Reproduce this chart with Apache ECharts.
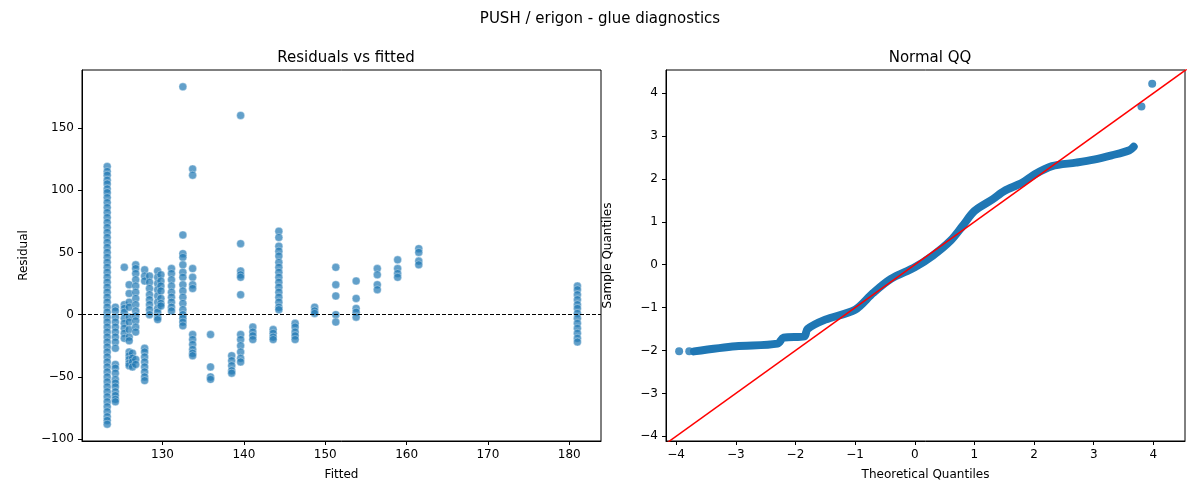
<!DOCTYPE html>
<html>
<head>
<meta charset="UTF-8">
<title>glue diagnostics</title>
<script src="https://cdn.jsdelivr.net/npm/echarts@6/dist/echarts.min.js"></script>
</head>
<body style="margin:0">
<div id="chart" style="width:1200px;height:500px"></div>
<script>
// fitted levels and the residuals seen at each level
var fitted = [123.2, 124.2, 125.3, 125.9, 126.3, 126.7, 127.8, 128.4, 129.4, 129.8, 131.1, 132.5, 133.7,
  135.9, 138.5, 139.6, 141.1, 143.6, 144.3, 146.3, 148.7, 151.3, 153.8, 156.4, 158.9, 161.5, 181.0];
var residuals = [
  [119, 115, 112, 108, 105, 101, 98, 94, 90, 86, 82, 78, 74, 70, 66, 62, 58, 54, 50, 46, 42, 38, 34, 30, 26, 22, 18, 14,
   10, 6, 2, -2, -6, -10, -14, -18, -22, -26, -30, -34, -38, -42, -46, -50, -54, -58, -62, -66, -70, -74, -78, -82, -85, -88],
  [6, 3, -2, -6, -10, -14, -18, -22, -27, -40, -43, -47, -52, -55, -58, -62, -65, -68, -70],
  [38, 8, 5, 2, -3, -7, -11, -15, -19],
  [24, 17, 10, 6, -2, -6, -12, -18, -21, -30, -33, -36, -39, -41],
  [-31, -35, -38, -42],
  [40, 37, 33, 28, 23, 18, 13, 8, 3, -1, -5, -10, -14, -36, -40],
  [36, 31, 27, -27, -30, -34, -38, -42, -46, -50, -53],
  [31, 26, 21, 16, 12, 8, 4, 0],
  [35, 30, 25, 20, 15, 10, 5, 2, -2, -4],
  [32, 27, 23, 19, 13, 9, 7],
  [37, 33, 28, 23, 18, 14, 10, 6, 3],
  [183, 64, 49, 46, 40, 34, 30, 24, 19, 14, 9, 4, 0, -3, -6, -9],
  [117, 112, 37, 30, 24, 21, -16, -20, -24, -28, -31, -33],
  [-16, -42, -50, -52],
  [-33, -37, -41, -45, -47],
  [160, 57, 35, 32, 30, 16, -16, -20, -25, -30, -35, -38],
  [-10, -14, -17, -20],
  [-12, -15, -18, -20],
  [67, 62, 55, 51, 47, 42, 38, 34, 30, 26, 22, 18, 14, 10, 6, 4],
  [-7, -10, -14, -17, -20],
  [6, 3, 1],
  [38, 24, 15, 0, -6],
  [27, 13, 5, 2, -2],
  [37, 32, 24, 20],
  [44, 37, 33, 30],
  [53, 50, 43, 40],
  [23, 20, 16, 12, 8, 5, 1, -3, -7, -11, -15, -19, -22]
];
var residTicksX = [130, 140, 150, 160, 170, 180];
var residTicksY = [-100, -50, 0, 50, 100, 150];

// QQ curve (theoretical, sample)
var qqTheo = [-3.7, -3.0, -2.3, -2.2, -1.85, -1.8, -1.5, -1.0, -0.7, -0.4, 0, 0.3, 0.6, 0.8, 1.0, 1.3, 1.5, 1.8, 2.0, 2.3, 2.7, 3.0, 3.3, 3.6, 3.67];
var qqSample = [-2.02, -1.9, -1.84, -1.7, -1.67, -1.5, -1.28, -1.05, -0.66, -0.33, -0.06, 0.21, 0.56, 0.9, 1.25, 1.52, 1.72, 1.91, 2.1, 2.3, 2.38, 2.45, 2.55, 2.67, 2.75];
var qqOutTheo = [-3.95, -3.78, 3.80, 3.98];
var qqOutSample = [-2.02, -2.02, 3.69, 4.22];
var qqTicks = [-4, -3, -2, -1, 0, 1, 2, 3, 4];

var residPts = [];
fitted.forEach(function (f, i) {
  residuals[i].forEach(function (r) { residPts.push([f, r]); });
});
var qqPts = qqTheo.map(function (t, i) { return [t, qqSample[i]]; });
var qqOut = qqOutTheo.map(function (t, i) { return [t, qqOutSample[i]]; });

var font = 'DejaVu Sans';
function axis(gridIndex, min, max, ticks, name, vertical) {
  return {
    type: 'value', gridIndex: gridIndex, min: min, max: max,
    name: name, nameLocation: 'middle', nameGap: vertical ? 52 : 28,
    nameTextStyle: { fontFamily: font, fontSize: 12, color: '#000' },
    axisLine: { show: true, onZero: false, lineStyle: { color: '#000' } },
    axisTick: { show: true, length: 4, customValues: ticks, lineStyle: { color: '#000' } },
    axisLabel: { customValues: ticks, fontFamily: font, fontSize: 12, color: '#000',
      formatter: function (v) { return String(v).replace('-', '\u2212'); } },
    splitLine: { show: false }
  };
}

var chart = echarts.init(document.getElementById('chart'));
chart.setOption({
  animation: false,
  title: [
    { text: 'PUSH / erigon - glue diagnostics', left: 'center', top: 7, textStyle: { fontFamily: font, fontSize: 15, fontWeight: 'normal', color: '#000' } },
    { text: 'Residuals vs fitted', left: 341, textAlign: 'center', top: 46, textStyle: { fontFamily: font, fontSize: 15, fontWeight: 'normal', color: '#000' } },
    { text: 'Normal QQ', left: 925, textAlign: 'center', top: 46, textStyle: { fontFamily: font, fontSize: 15, fontWeight: 'normal', color: '#000' } }
  ],
  grid: [
    { left: 82, top: 70, width: 519, height: 371, show: true, borderColor: '#000', borderWidth: 1 },
    { left: 666, top: 70, width: 519, height: 371, show: true, borderColor: '#000', borderWidth: 1 }
  ],
  xAxis: [
    axis(0, 120.1, 183.9, residTicksX, 'Fitted', false),
    axis(1, -4.17, 4.53, qqTicks, 'Theoretical Quantiles', false)
  ],
  yAxis: [
    axis(0, -101.5, 196.5, residTicksY, 'Residual', true),
    axis(1, -4.11, 4.54, qqTicks, 'Sample Quantiles', true)
  ],
  series: [
    {
      type: 'scatter', xAxisIndex: 0, yAxisIndex: 0, data: residPts, symbolSize: 8,
      itemStyle: { color: '#1f77b4', opacity: 0.7, borderColor: '#fff', borderWidth: 0.5 },
      markLine: {
        silent: true, symbol: 'none', label: { show: false },
        lineStyle: { color: '#000', type: [4, 2], width: 1 },
        data: [{ yAxis: 0 }]
      }
    },
    {
      type: 'line', xAxisIndex: 1, yAxisIndex: 1, data: qqPts, showSymbol: false, smooth: 0.3,
      lineStyle: { color: '#1f77b4', width: 8, cap: 'round', join: 'round' }
    },
    {
      type: 'scatter', xAxisIndex: 1, yAxisIndex: 1, data: qqOut, symbolSize: 8,
      itemStyle: { color: '#1f77b4' }
    },
    {
      type: 'line', xAxisIndex: 1, yAxisIndex: 1, data: [[-4.6, -4.6], [4.6, 4.6]], showSymbol: false,
      clip: true, lineStyle: { color: '#ff0000', width: 1.5 }
    }
  ]
});
</script>
</body>
</html>
